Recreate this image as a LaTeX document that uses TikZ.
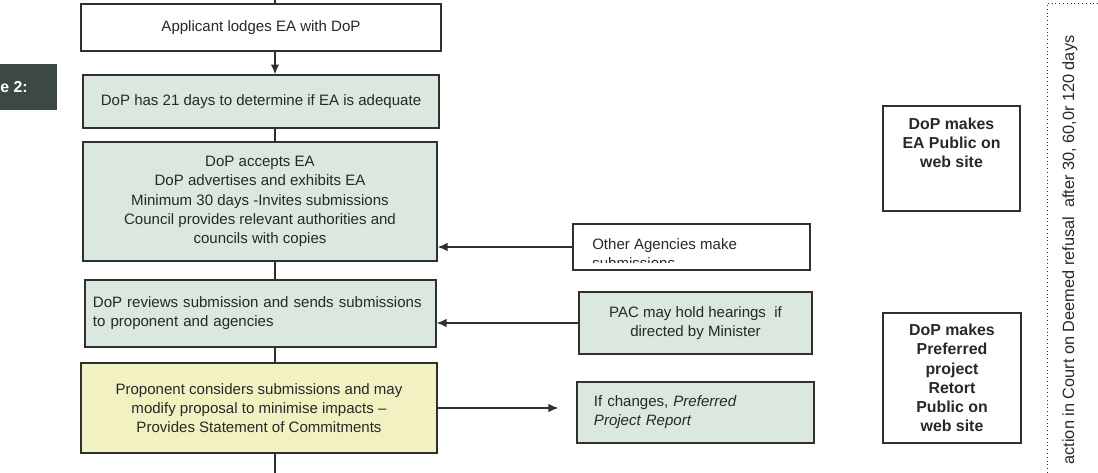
\documentclass[tikz,border=0pt]{standalone}
\usepackage{fontspec}
\setmainfont{Liberation Sans}
\usepackage{tikz}
\usetikzlibrary{positioning,arrows.meta}
\definecolor{boxgreen}{RGB}{218,232,222}
\definecolor{boxyellow}{RGB}{241,241,194}
\definecolor{tagdark}{RGB}{60,72,67}
\definecolor{linegrey}{RGB}{48,48,48}
\definecolor{textgrey}{RGB}{40,40,40}
\newcommand{\bodyfont}{\fontsize{10.7}{13.6}\selectfont}
\newcommand{\boldfont}{\fontsize{11.3}{13.6}\selectfont\bfseries}
\tikzstyle{stage}=[draw=linegrey, line width=0.9pt, inner sep=2pt, font=\bodyfont, text=textgrey]
\tikzstyle{greenstage}=[stage, fill=boxgreen]
\tikzstyle{webbox}=[draw=linegrey, line width=0.9pt, fill=white]
\tikzstyle{webtext}=[font=\boldfont, text=textgrey, align=center, inner sep=0pt]
\tikzstyle{link}=[draw=linegrey, line width=0.9pt]
\tikzstyle{dedge}=[link,-{Latex[length=7pt,width=6pt]}]

\begin{document}
\begin{tikzpicture}[x=0.025cm,y=-0.025cm]
			\useasboundingbox (0,0) rectangle (1098,473);
			
			% main column
			\node[stage, fill=white, minimum width=9cm, minimum height=1.175cm, align=center] (app) at (261,27.5) {Applicant lodges EA with DoP};
			\node[greenstage, minimum width=8.9cm, minimum height=1.325cm, align=center] (chk) at (261,101.5) {DoP has 21 days to determine if EA is adequate};
			\node[greenstage, minimum width=8.85cm, minimum height=2.975cm, align=center] (acc) at (260,201.5) {DoP accepts EA\\DoP advertises and exhibits EA\\Minimum 30 days -Invites submissions\\Council provides relevant authorities and\\councils with copies};
			\node[greenstage, text width=8.375cm, inner xsep=0.2cm, minimum height=1.675cm, align=left] (rev) at (260.5,313.5) {DoP reviews submission and sends submissions\\to proponent and agencies};
			\node[stage, fill=boxyellow, minimum width=8.9cm, minimum height=2.25cm, align=center] (prop) at (259,408) {Proponent considers submissions and may\\modify proposal to minimise impacts --\\Provides Statement of Commitments};
			
			% side boxes
			\node[stage, fill=white, minimum width=5.925cm, minimum height=1.15cm] (oth) at (691.5,247) {};
			\begin{scope}
				\clip (oth.north west) rectangle (oth.east |- 0,262);
				\node[anchor=north west, align=left, font=\bodyfont, text=textgrey, inner sep=0pt] (othtxt) at (592,238) {Other Agencies make\\submissions};
			\end{scope}
			\node[greenstage, minimum width=5.825cm, minimum height=1.55cm, align=center] (pac) at (695.5,323) {PAC may hold hearings\ \ if\\directed by Minister};
			\node[greenstage, text width=5.075cm, inner xsep=0.425cm, minimum height=1.525cm, align=left] (chg) at (695.5,412.5) {If changes, \textit{Preferred}\\\textit{Project Report}};
			
			% web site boxes
			\node[webbox, minimum width=3.425cm, minimum height=2.625cm] (web1) at (951.5,158.5) {};
			\node[webtext, below=0.3cm of web1.north] (web1txt) {DoP makes\\EA Public on\\web site};
			\node[webbox, webtext, minimum width=3.45cm, minimum height=3.25cm] (web2) at (952,378) {DoP makes\\Preferred\\project\\Retort\\Public on\\web site};
			
			% figure tag
			\node[fill=tagdark, minimum width=1.425cm, minimum height=1.15cm, inner sep=0pt] (tag) at (28.5,87) {};
			\node[anchor=west, text=white, font=\boldfont, inner sep=0pt] (tagtxt) at (0,87) {e 2:};
			
			% court action
			\coordinate (dbot) at (1047,473);
			\coordinate (dtop) at (1047,3);
			\coordinate (dright) at (1098,3);
			\draw[linegrey, dotted, line width=0.7pt] (dbot) -- (dtop) -- (dright);
			\node[rotate=90, font=\fontsize{11.6}{14}\selectfont, text=textgrey] (court) at (1070,250) {action in Court on Deemed refusal\ \ after 30, 60,0r 120 days};
			
			% trunk
			\coordinate (trunk) at (275,0);
			\coordinate (trunkend) at (275,473);
			\draw[link] (trunk) -- (trunk |- app.north);
			\draw[dedge] (trunk |- app.south) -- (trunk |- chk.north);
			\draw[link] (trunk |- chk.south) -- (trunk |- acc.north);
			\draw[link] (trunk |- acc.south) -- (trunk |- rev.north);
			\draw[link] (trunk |- rev.south) -- (trunk |- prop.north);
			\draw[link] (trunk |- prop.south) -- (trunkend);
			
			\draw[dedge] (oth.west) -- (acc.east |- oth.west);
			\draw[dedge] (pac.west) -- (rev.east |- pac.west);
			\draw[dedge, shorten >=0.45cm] (prop.east) -- (chg.west |- prop.east);
		\end{tikzpicture}
\end{document}
